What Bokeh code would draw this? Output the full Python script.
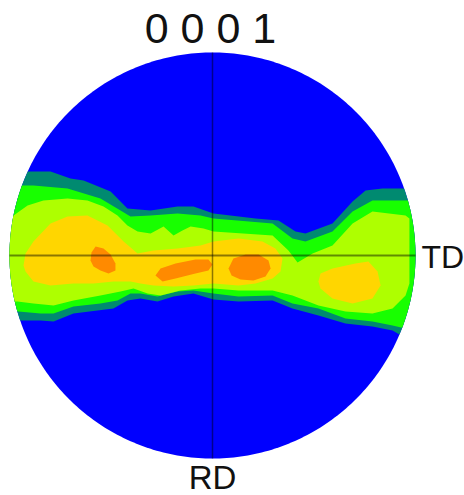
import numpy as np
from bokeh.plotting import figure
from bokeh.models import Label, Range1d
from bokeh.embed import file_html
from bokeh.resources import INLINE

# ---------------- data (stereographic pole-figure coordinates, unit circle) -------------
title_text = "0 0 0 1"
td_label = "TD"
rd_label = "RD"

level_colors = ["#0000FF", "#008A70", "#18FF00", "#AEFF00", "#FFD600", "#FF8A00"]

# level 1 (teal) boundary
teal_up_x = [-1.06, -0.921, -0.798, -0.700, -0.635, -0.502, -0.419, -0.305, -0.172, -0.094, 0.005,
             0.212, 0.325, 0.409, 0.458, 0.591, 0.690, 0.754, 0.837, 0.951, 1.06]
teal_up_y = [0.414, 0.414, 0.414, 0.379, 0.369, 0.315, 0.232, 0.222, 0.241, 0.241, 0.207,
             0.182, 0.172, 0.118, 0.108, 0.158, 0.266, 0.320, 0.330, 0.330, 0.330]
teal_lo_x = [-1.06, -0.946, -0.847, -0.783, -0.685, -0.567, -0.488, -0.419, -0.355, -0.271, -0.192,
             -0.094, 0.005, 0.128, 0.296, 0.394, 0.522, 0.655, 0.788, 0.887, 0.936, 1.06]
teal_lo_y = [-0.320, -0.320, -0.320, -0.325, -0.286, -0.271, -0.261, -0.222, -0.212, -0.227, -0.202,
             -0.187, -0.217, -0.227, -0.222, -0.261, -0.296, -0.335, -0.350, -0.369, -0.399, -0.43]

# level 2 (green)
green_up_x = [-1.06, -0.961, -0.882, -0.714, -0.552, -0.453, -0.404, -0.305, -0.172, -0.059, 0.005,
              0.296, 0.394, 0.458, 0.591, 0.690, 0.788, 0.951, 1.06]
green_up_y = [0.345, 0.345, 0.345, 0.330, 0.281, 0.222, 0.192, 0.197, 0.207, 0.197, 0.182,
              0.158, 0.084, 0.069, 0.118, 0.217, 0.271, 0.271, 0.271]
green_lo_x = [-1.06, -0.956, -0.847, -0.783, -0.685, -0.552, -0.468, -0.404, -0.355, -0.271, -0.172,
              -0.094, 0.005, 0.128, 0.296, 0.394, 0.522, 0.655, 0.788, 0.887, 0.951, 1.06]
green_lo_y = [-0.276, -0.276, -0.286, -0.286, -0.251, -0.236, -0.222, -0.187, -0.187, -0.202, -0.177,
              -0.172, -0.187, -0.202, -0.197, -0.236, -0.261, -0.310, -0.325, -0.345, -0.360, -0.38]

# level 3 (yellow-green)
lime_up_x = [-1.06, -0.980, -0.911, -0.833, -0.714, -0.616, -0.537, -0.468, -0.419, -0.369, -0.305,
             -0.241, -0.192, -0.148, -0.108, -0.044, 0.005, 0.296, 0.374, 0.419, 0.493, 0.591,
             0.690, 0.788, 0.951, 0.970]
lime_up_y = [0.197, 0.197, 0.246, 0.271, 0.281, 0.271, 0.241, 0.197, 0.148, 0.118, 0.108,
             0.143, 0.099, 0.123, 0.143, 0.133, 0.118, 0.099, 0.025, -0.034, 0.010, 0.049,
             0.158, 0.217, 0.197, 0.182]
lime_lo_x = [-1.06, -0.961, -0.882, -0.783, -0.685, -0.552, -0.453, -0.389, -0.320, -0.256, -0.158,
             -0.059, 0.005, 0.128, 0.296, 0.394, 0.522, 0.655, 0.788, 0.887, 0.951, 0.970]
lime_lo_y = [-0.227, -0.227, -0.236, -0.246, -0.222, -0.197, -0.177, -0.163, -0.187, -0.197, -0.172,
             -0.163, -0.163, -0.172, -0.172, -0.197, -0.246, -0.276, -0.286, -0.261, -0.197, -0.138]

# level 4 (gold) - two regions
gold_a_x = [-0.931, -0.921, -0.882, -0.798, -0.714, -0.616, -0.517, -0.438, -0.369, -0.291, -0.172,
            -0.059, 0.005, 0.128, 0.246, 0.310, 0.345, 0.335, 0.296, 0.212, 0.128, 0.005, -0.094,
            -0.192, -0.291, -0.355, -0.404, -0.488, -0.586, -0.685, -0.798, -0.882, -0.921]
gold_a_y = [-0.049, 0.010, 0.069, 0.158, 0.192, 0.197, 0.148, 0.069, 0.010, 0.025, 0.034,
            0.049, 0.069, 0.084, 0.069, 0.034, -0.015, -0.079, -0.113, -0.138, -0.148, -0.138, -0.148,
            -0.153, -0.148, -0.138, -0.128, -0.128, -0.138, -0.138, -0.148, -0.128, -0.079]
gold_b_x = [0.522, 0.532, 0.591, 0.704, 0.768, 0.813, 0.828, 0.788, 0.690, 0.591, 0.532]
gold_b_y = [-0.128, -0.089, -0.064, -0.039, -0.030, -0.079, -0.148, -0.212, -0.236, -0.212, -0.163]

# level 5 (orange) - three maxima
orange_a_x = [-0.576, -0.537, -0.502, -0.478, -0.478, -0.512, -0.552, -0.586, -0.601, -0.596]
orange_a_y = [0.044, 0.034, 0.005, -0.039, -0.074, -0.089, -0.074, -0.054, -0.025, 0.015]
orange_b_x = [-0.281, -0.256, -0.182, -0.084, -0.020, 0.000, -0.020, -0.084, -0.182, -0.246]
orange_b_y = [-0.099, -0.064, -0.039, -0.020, -0.020, -0.044, -0.074, -0.089, -0.113, -0.128]
orange_c_x = [0.079, 0.103, 0.163, 0.227, 0.276, 0.286, 0.261, 0.202, 0.138, 0.094]
orange_c_y = [-0.064, -0.015, 0.005, 0.005, -0.025, -0.064, -0.103, -0.123, -0.118, -0.099]

# ---------------- layout -------------
W, H = 464, 495
CX, CY, R = 212, 255, 203   # circle centre / radius in screen pixels

p = figure(width=W, height=H, output_backend="svg", toolbar_location=None,
           x_range=Range1d(-CX / R, (W - CX) / R),
           y_range=Range1d((CY - H) / R, CY / R),
           min_border=0, title_location=None)
p.axis.visible = False
p.grid.visible = False
p.outline_line_color = None
p.background_fill_color = "white"
p.border_fill_color = "white"

theta = np.linspace(0, 2 * np.pi, 360, endpoint=False)
circle_pts = list(zip(np.cos(theta), np.sin(theta)))   # counter-clockwise unit circle


def clip_to_circle(xs, ys):
    """Sutherland-Hodgman clip of a polygon against the (convex) unit circle."""
    out = list(zip(xs, ys))
    n = len(circle_pts)
    for i in range(n):
        ax, ay = circle_pts[i]
        bx, by = circle_pts[(i + 1) % n]
        inp, out = out, []
        if not inp:
            break

        def inside(pt):
            return (bx - ax) * (pt[1] - ay) - (by - ay) * (pt[0] - ax) >= 0

        def inter(s, e):
            dx, dy = e[0] - s[0], e[1] - s[1]
            ex, ey = bx - ax, by - ay
            den = dx * ey - dy * ex
            t = ((ax - s[0]) * ey - (ay - s[1]) * ex) / den
            return (s[0] + t * dx, s[1] + t * dy)

        s = inp[-1]
        for e in inp:
            if inside(e):
                if not inside(s):
                    out.append(inter(s, e))
                out.append(e)
            elif inside(s):
                out.append(inter(s, e))
            s = e
    return [q[0] for q in out], [q[1] for q in out]


def band(ux, uy, lx, ly):
    return clip_to_circle(list(ux) + list(lx)[::-1], list(uy) + list(ly)[::-1])


# base circle (lowest level)
p.patch([q[0] for q in circle_pts], [q[1] for q in circle_pts],
        fill_color=level_colors[0], line_color=None)

bx, by = band(teal_up_x, teal_up_y, teal_lo_x, teal_lo_y)
p.patch(bx, by, fill_color=level_colors[1], line_color=None)
bx, by = band(green_up_x, green_up_y, green_lo_x, green_lo_y)
p.patch(bx, by, fill_color=level_colors[2], line_color=None)
bx, by = band(lime_up_x, lime_up_y, lime_lo_x, lime_lo_y)
p.patch(bx, by, fill_color=level_colors[3], line_color=None)
p.patches([gold_a_x, gold_b_x], [gold_a_y, gold_b_y], fill_color=level_colors[4], line_color=None)
p.patches([orange_a_x, orange_b_x, orange_c_x], [orange_a_y, orange_b_y, orange_c_y],
          fill_color=level_colors[5], line_color=None)

# reference cross
p.line([-1, 1], [0, 0], line_color="black", line_alpha=0.45, line_width=2)
p.line([0, 0], [-1, 1], line_color="black", line_alpha=0.45, line_width=1.5)

font = "Liberation Sans"
p.add_layout(Label(x=-0.01, y=(CY - 27.5) / R, text=title_text, text_align="center",
                   text_baseline="middle", text_font=font, text_font_size="43px",
                   text_color="#111111"))
p.add_layout(Label(x=(421 - CX) / R, y=(CY - 256.5) / R, text=td_label, text_align="left",
                   text_baseline="middle", text_font=font, text_font_size="32px",
                   text_color="#111111"))
p.add_layout(Label(x=0.0, y=(CY - 477) / R, text=rd_label, text_align="center",
                   text_baseline="middle", text_font=font, text_font_size="33px",
                   text_color="#111111"))

open("out.html", "w").write(file_html(p, INLINE))
